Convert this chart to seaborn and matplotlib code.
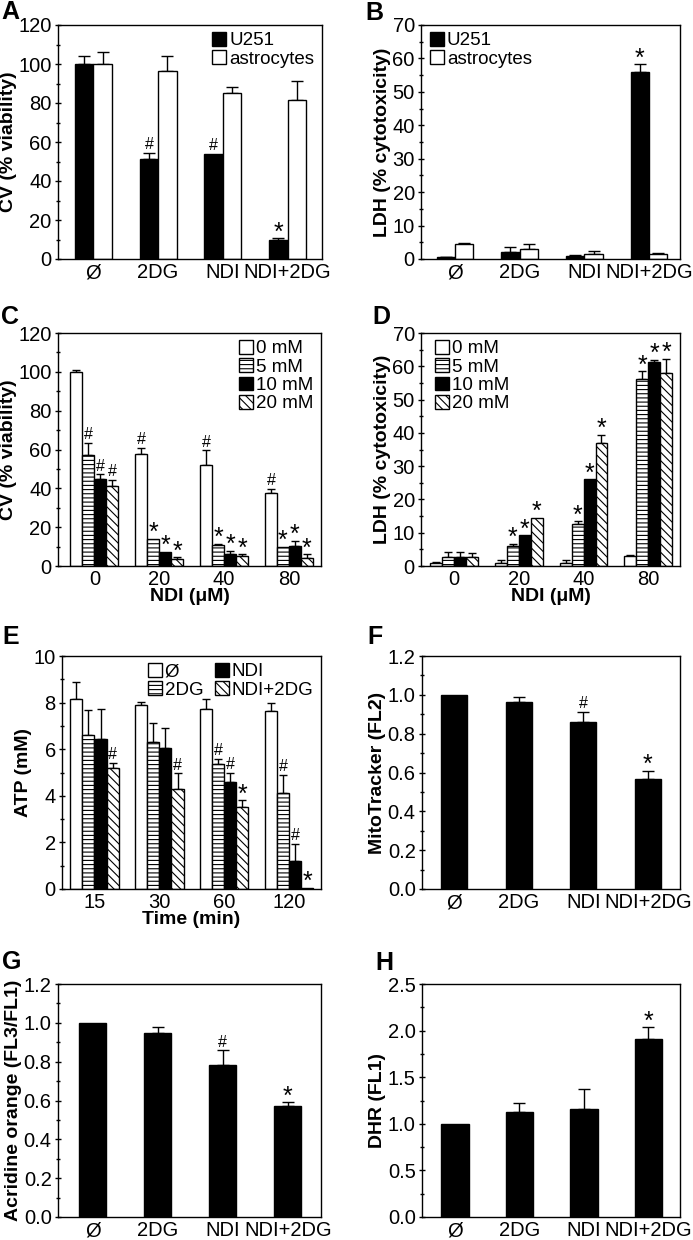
import numpy as np
import pandas as pd
import matplotlib
matplotlib.use("Agg")
import matplotlib.pyplot as plt
from matplotlib.ticker import MultipleLocator, FormatStrFormatter
import seaborn as sns

# categories
treatments = ['Ø', '2DG', 'NDI', 'NDI+2DG']
cell_types = ['U251', 'astrocytes']
ndi_doses = ['0', '20', '40', '80']
dg_doses = ['0 mM', '5 mM', '10 mM', '20 mM']
times = ['15', '30', '60', '120']

# A - CV, U251 vs astrocytes
a_u251 = [100, 51.2, 53.8, 9.6]
a_u251_err = [4.3, 3.1, 0, 1.0]
a_u251_marks = ['', '#', '#', '*']
a_astro = [100, 96.6, 85.0, 81.6]
a_astro_err = [6.2, 7.6, 3.0, 9.5]
a_astro_marks = ['', '', '', '']

# B - LDH, U251 vs astrocytes
b_u251 = [0.5, 2.0, 1.0, 55.8]
b_u251_err = [0.2, 1.7, 0.3, 2.5]
b_u251_marks = ['', '', '', '*']
b_astro = [4.5, 3.0, 1.5, 1.5]
b_astro_err = [0.3, 1.5, 0.8, 0.4]
b_astro_marks = ['', '', '', '']

# C - CV, NDI dose x 2DG dose
c_0mm = [100, 57.9, 51.8, 37.8]
c_0mm_err = [1.0, 2.9, 7.8, 1.9]
c_0mm_marks = ['', '#', '#', '#']
c_5mm = [57.0, 14.1, 10.6, 9.8]
c_5mm_err = [6.3, 0, 0.7, 0]
c_5mm_marks = ['#', '*', '*', '*']
c_10mm = [44.6, 7.2, 6.0, 10.1]
c_10mm_err = [2.6, 0, 1.7, 2.8]
c_10mm_marks = ['#', '*', '*', '*']
c_20mm = [41.0, 3.8, 5.0, 4.3]
c_20mm_err = [3.5, 0.7, 1.0, 1.7]
c_20mm_marks = ['#', '*', '*', '*']

# D - LDH, NDI dose x 2DG dose
d_0mm = [1.0, 1.0, 1.0, 3.0]
d_0mm_err = [0.2, 0.7, 0.9, 0.2]
d_0mm_marks = ['', '', '', '']
d_5mm = [2.7, 6.0, 12.5, 56.1]
d_5mm_err = [1.5, 0.7, 0.9, 2.4]
d_5mm_marks = ['', '*', '*', '*']
d_10mm = [2.7, 9.2, 26.0, 61.3]
d_10mm_err = [1.5, 0, 0, 0.7]
d_10mm_marks = ['', '*', '*', '*']
d_20mm = [2.6, 14.5, 37.0, 58.0]
d_20mm_err = [1.3, 0, 2.5, 4.3]
d_20mm_marks = ['', '*', '*', '*']

# E - ATP over time
e_ctrl = [8.14, 7.88, 7.71, 7.65]
e_ctrl_err = [0.76, 0.14, 0.43, 0.32]
e_ctrl_marks = ['', '', '', '']
e_2dg = [6.6, 6.3, 5.36, 4.13]
e_2dg_err = [1.1, 0.83, 0.24, 0.76]
e_2dg_marks = ['', '', '#', '#']
e_ndi = [6.42, 6.07, 4.58, 1.2]
e_ndi_err = [1.3, 0.86, 0.4, 0.75]
e_ndi_marks = ['', '', '#', '#']
e_combo = [5.21, 4.31, 3.52, 0.06]
e_combo_err = [0.2, 0.65, 0.29, 0]
e_combo_marks = ['#', '#', '*', '*']

# F - MitoTracker
f_vals = [1.0, 0.964, 0.858, 0.566]
f_err = [0, 0.026, 0.055, 0.043]
f_marks = ['', '', '#', '*']

# G - acridine orange
g_vals = [1.0, 0.948, 0.781, 0.57]
g_err = [0, 0.029, 0.077, 0.02]
g_marks = ['', '', '#', '*']

# H - DHR
h_vals = [1.0, 1.13, 1.155, 1.913]
h_err = [0, 0.097, 0.218, 0.122]
h_marks = ['', '', '', '*']

sns.set_style('ticks', {'axes.edgecolor': 'black', 'xtick.color': 'black',
                        'ytick.color': 'black', 'text.color': 'black',
                        'axes.labelcolor': 'black'})
plt.rcParams['font.family'] = ['Liberation Sans', 'DejaVu Sans']
plt.rcParams['hatch.linewidth'] = 0.8

W, H = 693, 1240
fig = plt.figure(figsize=(W / 100, H / 100), dpi=100)

WHITE = ('white', None)
BLACK = ('black', None)
HLINES = ('white', '----')
DIAG = ('white', '\\\\\\\\')


def make_axes(left, top, right, bottom):
    return fig.add_axes([left / W, 1 - bottom / H, (right - left) / W, (bottom - top) / H])


def bar_panel(ax, cats, names, series, errs, marks, styles, width, capsize):
    rows = []
    for name, vals in zip(names, series):
        for c, v in zip(cats, vals):
            rows.append({'cat': c, 'grp': name, 'val': v})
    df = pd.DataFrame(rows)
    pal = {n: s[0] for n, s in zip(names, styles)}
    sns.barplot(data=df, x='cat', y='val', hue='grp', order=cats, hue_order=names,
                palette=pal, width=width, errorbar=None, edgecolor='black',
                linewidth=1, saturation=1, legend=False, ax=ax, zorder=2)
    n = len(names)
    handles = {}
    for p in ax.patches:
        xc = p.get_x() + p.get_width() / 2
        ci = int(round(xc))
        hi = min(n - 1, max(0, int((xc - ci + width / 2) // (width / n))))
        face, hatch = styles[hi]
        p.set_facecolor(face)
        if hatch:
            p.set_hatch(hatch)
        handles.setdefault(hi, p)
        v = series[hi][ci]
        e = errs[hi][ci]
        if e > 0:
            ax.errorbar(xc, v, yerr=[[0], [e]], fmt='none', ecolor='black',
                        elinewidth=1, capsize=capsize, capthick=1, zorder=1.5)
        m = marks[hi][ci]
        if m == '#':
            ax.annotate(m, (xc, v + e), xytext=(0, 0.5), textcoords='offset points',
                        ha='center', va='bottom', fontsize=11.5)
        elif m == '*':
            ax.annotate(m, (xc, v + e), xytext=(0, -4.5), textcoords='offset points',
                        ha='center', va='bottom', fontsize=18)
    ax.set_xlabel('')
    ax.tick_params(axis='x', length=0, labelsize=14.5, pad=3)
    ax.tick_params(axis='y', which='major', direction='inout', length=5, width=1,
                   labelsize=14.5, pad=2)
    ax.tick_params(axis='y', which='minor', direction='inout', length=3.5, width=1)
    for s in ax.spines.values():
        s.set_linewidth(1)
        s.set_color('black')
    return [handles[i] for i in range(n)]


def finish(ax, ylim, major, minor, ylabel, xlim, fmt=None):
    ax.set_ylim(*ylim)
    ax.set_xlim(*xlim)
    ax.yaxis.set_major_locator(MultipleLocator(major))
    ax.yaxis.set_minor_locator(MultipleLocator(minor))
    if fmt:
        ax.yaxis.set_major_formatter(FormatStrFormatter(fmt))
    ax.set_ylabel(ylabel, fontsize=14, fontweight='bold', labelpad=1)


def legend(ax, handles, labels, loc, anchor, ncol=1):
    ax.legend(handles, labels, loc=loc, bbox_to_anchor=anchor, ncol=ncol,
              frameon=False, fontsize=13.5, handlelength=0.75, handleheight=0.75,
              handletextpad=0.15, labelspacing=0.05, columnspacing=0.6,
              borderaxespad=0, borderpad=0)


# A
ax = make_axes(58, 25, 322, 259)
hd = bar_panel(ax, treatments, cell_types, [a_u251, a_astro], [a_u251_err, a_astro_err],
               [a_u251_marks, a_astro_marks], [BLACK, WHITE], 0.57, 4)
finish(ax, (0, 120), 20, 10, 'CV (% viability)', (-0.545, 3.53))
legend(ax, hd, cell_types, 'upper right', (0.97, 0.97))

# B
ax = make_axes(421, 25, 680, 259)
hd = bar_panel(ax, treatments, cell_types, [b_u251, b_astro], [b_u251_err, b_astro_err],
               [b_u251_marks, b_astro_marks], [BLACK, WHITE], 0.57, 4)
finish(ax, (0, 70), 10, 5, 'LDH (% cytotoxicity)', (-0.526, 3.48))
legend(ax, hd, cell_types, 'upper left', (0.035, 0.97))

# C
ax = make_axes(58, 333, 321, 566)
hd = bar_panel(ax, ndi_doses, dg_doses, [c_0mm, c_5mm, c_10mm, c_20mm],
               [c_0mm_err, c_5mm_err, c_10mm_err, c_20mm_err],
               [c_0mm_marks, c_5mm_marks, c_10mm_marks, c_20mm_marks],
               [WHITE, HLINES, BLACK, DIAG], 0.74, 3)
finish(ax, (0, 120), 20, 10, 'CV (% viability)', (-0.56, 3.495))
ax.set_xlabel('NDI (μM)', fontsize=14, fontweight='bold', labelpad=-1)
legend(ax, hd, dg_doses, 'upper right', (0.97, 0.97))

# D
ax = make_axes(421, 333, 680, 566)
hd = bar_panel(ax, ndi_doses, dg_doses, [d_0mm, d_5mm, d_10mm, d_20mm],
               [d_0mm_err, d_5mm_err, d_10mm_err, d_20mm_err],
               [d_0mm_marks, d_5mm_marks, d_10mm_marks, d_20mm_marks],
               [WHITE, HLINES, BLACK, DIAG], 0.74, 3)
finish(ax, (0, 70), 10, 5, 'LDH (% cytotoxicity)', (-0.51, 3.49))
ax.set_xlabel('NDI (μM)', fontsize=14, fontweight='bold', labelpad=-1)
legend(ax, hd, dg_doses, 'upper left', (0.055, 0.97))

# E
ax = make_axes(62, 656, 321, 889)
hd = bar_panel(ax, times, treatments, [e_ctrl, e_2dg, e_ndi, e_combo],
               [e_ctrl_err, e_2dg_err, e_ndi_err, e_combo_err],
               [e_ctrl_marks, e_2dg_marks, e_ndi_marks, e_combo_marks],
               [WHITE, HLINES, BLACK, DIAG], 0.745, 3)
finish(ax, (0, 10), 2, 1, 'ATP (mM)', (-0.5, 3.49))
ax.set_xlabel('Time (min)', fontsize=14, fontweight='bold', labelpad=-1)
legend(ax, hd, treatments, 'upper right', (0.97, 0.97), ncol=2)

# F
ax = make_axes(422, 656, 680, 889)
bar_panel(ax, treatments, ['v'], [f_vals], [f_err], [f_marks], [BLACK], 0.40, 4)
finish(ax, (0, 1.2), 0.2, 0.1, 'MitoTracker (FL2)', (-0.5, 3.5), '%.1f')

# G
ax = make_axes(58, 984, 321, 1217)
bar_panel(ax, treatments, ['v'], [g_vals], [g_err], [g_marks], [BLACK], 0.42, 4)
finish(ax, (0, 1.2), 0.2, 0.1, 'Acridine orange (FL3/FL1)', (-0.534, 3.51), '%.1f')

# H
ax = make_axes(422, 984, 680, 1217)
bar_panel(ax, treatments, ['v'], [h_vals], [h_err], [h_marks], [BLACK], 0.425, 4)
finish(ax, (0, 2.5), 0.5, 0.25, 'DHR (FL1)', (-0.51, 3.49), '%.1f')

# panel letters
for lab, x, y in [('A', 1, 12), ('B', 365, 13), ('C', 1, 317), ('D', 372, 317),
                  ('E', 2, 637), ('F', 367, 637), ('G', 2, 962), ('H', 375, 963)]:
    fig.text(x / W, 1 - y / H, lab, fontsize=18, fontweight='bold',
             ha='left', va='center')

fig.savefig('out.png', dpi=100)
